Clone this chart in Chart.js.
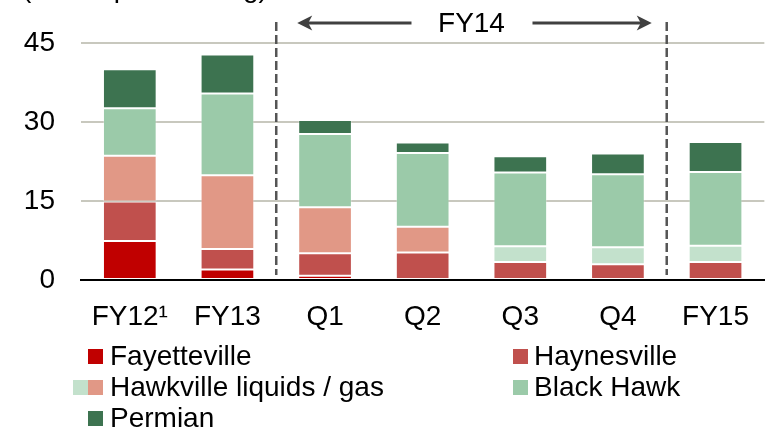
<!DOCTYPE html>
<html>
<head>
<meta charset="utf-8">
<script src="https://cdn.jsdelivr.net/npm/chart.js@4/dist/chart.umd.min.js"></script>
<style>
  html, body { margin: 0; padding: 0; background: #fff; }
  #wrap { position: relative; width: 769px; height: 428px; overflow: hidden; font-family: "Liberation Sans", Arial, sans-serif; }
  canvas { position: absolute; left: 0; top: 0; }
  .lg { position: absolute; font-size: 28px; line-height: 32px; color: #000; white-space: nowrap; }
  .sw { position: absolute; width: 15px; height: 15px; }
</style>
</head>
<body>
<div id="wrap">
  <canvas id="c" width="769" height="428"></canvas>
  <div class="sw" style="left:88px;top:349px;background:#C00000"></div>
  <div class="lg" style="left:110px;top:340px">Fayetteville</div>
  <div class="sw" style="left:513px;top:349px;background:#C0504D"></div>
  <div class="lg" style="left:534px;top:340px">Haynesville</div>
  <div class="sw" style="left:73px;top:380px;background:#C3E1CC"></div>
  <div class="sw" style="left:88px;top:380px;background:#E19886"></div>
  <div class="lg" style="left:110px;top:371px">Hawkville liquids / gas</div>
  <div class="sw" style="left:513px;top:380px;background:#9BCAA9"></div>
  <div class="lg" style="left:534px;top:371px">Black Hawk</div>
  <div class="sw" style="left:88px;top:411px;background:#3D7350"></div>
  <div class="lg" style="left:110px;top:402px">Permian</div>
</div>
<script>
// ---- data ----
const categories   = ["FY12\u00B9", "FY13", "Q1", "Q2", "Q3", "Q4", "FY15"];
const fayetteville = [7.4, 2.0, 0.8, 0, 0, 0, 0];
const haynesville  = [7.5, 3.9, 4.3, 5.2, 3.4, 3.0, 3.4];
const hawkville    = [8.7, 14.0, 8.7, 4.9, 3.0, 3.2, 3.1];
const blackHawk    = [9.0, 15.5, 13.9, 14.0, 14.0, 13.9, 14.0];
const permian      = [7.4, 7.4, 2.7, 2.0, 3.1, 3.9, 5.7];
const yTicks       = [0, 15, 30, 45];
const periodLabel  = "FY14";
const titleText    = "($ in capex funding)";

const FONT = '"Liberation Sans", Arial, sans-serif';
const salmon = '#E19886', paleGreen = '#C3E1CC';
const hawkColors = categories.map((c, i) => i < 4 ? salmon : paleGreen);

const edge = ctx => (ctx.raw === 0 ? 0 : 1);
function ds(label, data, color) {
  return { label, data, backgroundColor: color, borderColor: 'rgba(255,255,255,0.28)', borderWidth: edge, borderSkipped: false,
           barPercentage: 0.55, categoryPercentage: 1.0 };
}

const annot = {
  id: 'annot',
  afterDraw(chart) {
    const ctx = chart.ctx, x = chart.scales.x;
    const d1 = (x.getPixelForValue(1) + x.getPixelForValue(2)) / 2;
    const d2 = (x.getPixelForValue(5) + x.getPixelForValue(6)) / 2;
    const bottom = chart.chartArea.bottom - 5;
    ctx.save();
    ctx.strokeStyle = '#555555'; ctx.lineWidth = 2.5; ctx.setLineDash([9, 4]);
    [d1, d2].forEach(px => { ctx.beginPath(); ctx.moveTo(px, 22); ctx.lineTo(px, bottom); ctx.stroke(); });
    ctx.setLineDash([]);
    const cx = (d1 + d2) / 2, ay = 23;
    ctx.fillStyle = '#000'; ctx.font = '28px ' + FONT; ctx.textAlign = 'center'; ctx.textBaseline = 'middle';
    ctx.fillText(periodLabel, cx, ay + 1);
    ctx.strokeStyle = '#404040'; ctx.fillStyle = '#404040'; ctx.lineWidth = 3;
    const arrow = (from, to) => {
      const dir = Math.sign(to - from);
      ctx.beginPath(); ctx.moveTo(from, ay); ctx.lineTo(to - dir * 10, ay); ctx.stroke();
      ctx.beginPath(); ctx.moveTo(to, ay); ctx.lineTo(to - dir * 15, ay - 7.5); ctx.lineTo(to - dir * 11, ay); ctx.lineTo(to - dir * 15, ay + 7.5); ctx.closePath(); ctx.fill();
    };
    arrow(cx - 60, d1 + 21);
    arrow(cx + 61, d2 - 15);
    ctx.fillStyle = '#000'; ctx.textAlign = 'left'; ctx.textBaseline = 'alphabetic';
    ctx.fillText(titleText, 22, -3);
    ctx.restore();
  }
};

new Chart(document.getElementById('c'), {
  type: 'bar',
  data: {
    labels: categories,
    datasets: [
      ds('Fayetteville', fayetteville, '#C00000'),
      ds('Haynesville', haynesville, '#C0504D'),
      ds('Hawkville liquids / gas', hawkville, hawkColors),
      ds('Black Hawk', blackHawk, '#9BCAA9'),
      ds('Permian', permian, '#3D7350')
    ]
  },
  options: {
    responsive: false,
    animation: false,
    layout: { padding: { top: 43, bottom: 0, left: 0, right: 0 } },
    plugins: { legend: { display: false }, tooltip: { enabled: false }, title: { display: false } },
    scales: {
      x: {
        stacked: true,
        offset: true,
        grid: { display: false, drawTicks: false },
        border: { display: true, color: '#000', width: 2 },
        ticks: { color: '#000', font: { family: FONT, size: 28 }, padding: 20, maxRotation: 0, autoSkip: false },
        afterFit(s) { s.height = 148; }
      },
      y: {
        stacked: true,
        min: 0, max: 45,
        afterBuildTicks(s) { s.ticks = yTicks.map(v => ({ value: v })); },
        grid: { color: ctx => (ctx.tick && ctx.tick.value === 0 ? 'rgba(0,0,0,0)' : '#C8C8BE'), lineWidth: 2, drawTicks: false },
        border: { display: false },
        ticks: { color: '#000', font: { family: FONT, size: 28 }, padding: 26 },
        afterFit(s) { s.width = 81; }
      }
    }
  },
  plugins: [annot]
});
</script>
</body>
</html>
